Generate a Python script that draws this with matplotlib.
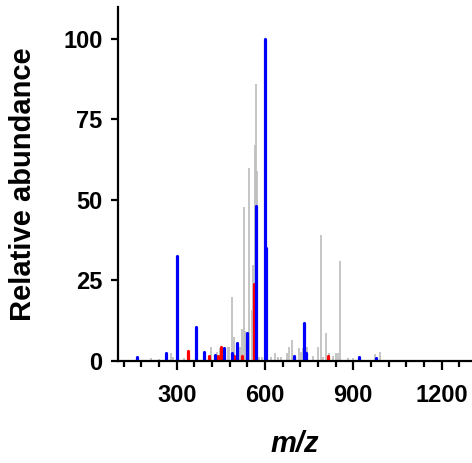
import matplotlib
matplotlib.use('Agg')
import matplotlib.pyplot as plt
import matplotlib.ticker as ticker

plt.rcParams['font.family'] = ['Liberation Sans', 'DejaVu Sans']
plt.rcParams['font.weight'] = 'bold'

# background peaks (grey)
gray_mz = [212, 241, 281, 289, 325, 415, 436, 447, 475, 479, 487, 494, 515, 522, 528,
           533, 544, 555, 560, 565, 570, 574, 580, 591, 619, 634, 644, 653, 674, 682,
           693, 716, 723, 729, 741, 764, 781, 789, 798, 806, 817, 832, 841, 849, 855,
           883, 900, 974, 991]
gray_int = [0.9, 0.6, 2.5, 1.0, 0.8, 4.4, 2.6, 4.0, 4.4, 4.4, 19.9, 7.3, 4.4, 10.0, 47.9,
            9.3, 59.9, 15.8, 29.8, 67.1, 86.0, 59.0, 1.0, 1.0, 1.0, 2.3, 1.0, 1.0, 2.3, 4.4,
            6.4, 3.8, 2.7, 4.0, 4.4, 1.6, 4.4, 39.1, 1.0, 8.7, 2.3, 1.3, 2.5, 2.5, 31.0,
            0.9, 0.9, 2.0, 2.6]

# red peaks
red_mz = [340, 409, 440, 452, 496, 523, 562, 815]
red_int = [3.1, 1.6, 1.3, 4.4, 1.6, 1.6, 23.8, 1.6]

# blue peaks
blue_mz = [166, 264, 301, 367, 392, 431, 461, 488, 505, 539, 569, 601, 605, 697, 732, 738, 919, 977]
blue_int = [1.2, 2.3, 32.4, 10.6, 2.8, 1.8, 3.9, 2.3, 5.4, 8.7, 48.2, 100, 35, 1.5, 11.6, 2.3, 1.2, 0.9]

xticks = [300, 600, 900, 1200]
yticks = [0, 25, 50, 75, 100]

fig = plt.figure(figsize=(4.72, 4.63), dpi=100)
ax = fig.add_axes([0.2496, 0.221, 0.7484, 0.764])

ax.vlines(gray_mz, 0, gray_int, colors='#c0c0c0', linewidth=1.3)
ax.vlines(red_mz, 0, red_int, colors='#ff0000', linewidth=2.3, capstyle='round')
ax.vlines(blue_mz, 0, blue_int, colors='#0000ff', linewidth=2.3, capstyle='round')

ax.set_xlim(100, 1300)
ax.set_ylim(0, 110)
ax.set_xticks(xticks)
ax.set_yticks(yticks)
ax.xaxis.set_minor_locator(ticker.MultipleLocator(60))

for s in ['top', 'right']:
    ax.spines[s].set_visible(False)
for s in ['left', 'bottom']:
    ax.spines[s].set_linewidth(1.6)

ax.tick_params(axis='both', which='major', width=1.6, labelsize=17, direction='out')
ax.tick_params(axis='x', which='major', length=6.5, pad=10)
ax.tick_params(axis='y', which='major', length=5, pad=6)
ax.tick_params(axis='x', which='minor', length=4.5, width=1.6)

ax.set_ylabel('Relative abundance', fontsize=21, fontweight='bold', labelpad=19)
ax.set_xlabel('m/z', fontsize=21, fontweight='bold', fontstyle='italic', labelpad=17)

fig.savefig('out.png', dpi=100)
